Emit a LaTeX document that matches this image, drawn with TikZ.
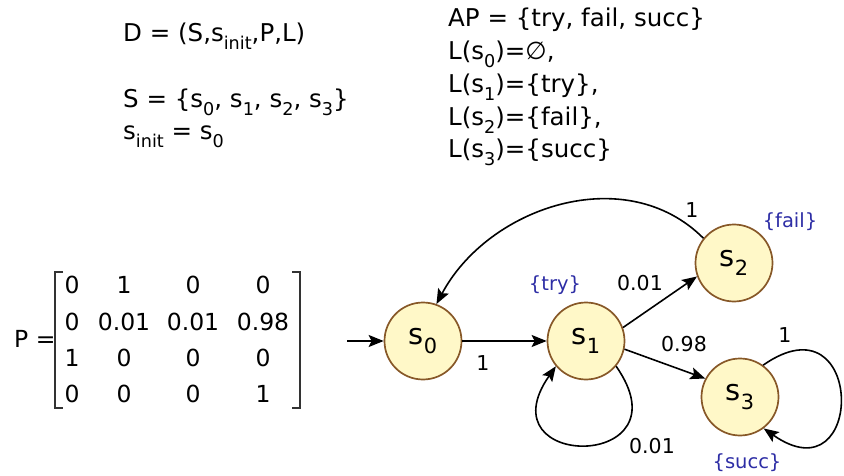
\documentclass[tikz,border=0pt]{standalone}
\usepackage{fontspec}
\setmainfont{DejaVu Sans}
\usetikzlibrary{arrows.meta}
\definecolor{statefill}{RGB}{255,248,200}
\definecolor{stateline}{RGB}{135,88,40}
\definecolor{lblue}{RGB}{45,45,165}
\newcommand\sbs[1]{\raisebox{-0.3em}{\scalebox{0.72}{#1}}}
\begin{document}
\begin{tikzpicture}[x=1pt,y=1pt,
  state/.style={circle,draw=stateline,fill=statefill,line width=1.7pt,minimum size=77pt,inner sep=0pt,font=\fontsize{29}{29}\selectfont},
  txt/.style={anchor=base west,inner sep=0pt,font=\fontsize{24.5}{28}\selectfont},
  mat/.style={anchor=base,inner sep=0pt,font=\fontsize{23.5}{28}\selectfont},
  elbl/.style={inner sep=0pt,font=\fontsize{20.5}{24}\selectfont},
  blbl/.style={inner sep=0pt,text=lblue,font=\fontsize{19.5}{24}\selectfont},
  edge/.style={line width=1.6pt,-{Stealth[length=15pt,width=12pt,inset=3pt]}},
  brk/.style={line width=1.6pt,draw=black!80}]
\useasboundingbox (0,0) rectangle (844,-476);

% top text
\node[txt] (d) at (123,-42) {D = (S,s\sbs{init},P,L)};
\node[txt] (sset) at (123,-108) {S = \{s\sbs{0}, s\sbs{1}, s\sbs{2}, s\sbs{3}\}};
\node[txt] (sinit) at (123,-140) {s\sbs{init} = s\sbs{0}};
\node[txt] (ap) at (448,-27) {AP = \{try, fail, succ\}};
\node[txt] (l0) at (448,-60) {L(s\sbs{0})=∅,};
\node[txt] (l1) at (448,-93) {L(s\sbs{1})=\{try\},};
\node[txt] (l2) at (448,-126) {L(s\sbs{2})=\{fail\},};
\node[txt] (l3) at (448,-158) {L(s\sbs{3})=\{succ\}};

% matrix
\node[mat,anchor=base west] (peq) at (14,-347) {P =};
\draw[brk] (63,-272) -- (55,-272) -- (55,-408) -- (63,-408);
\draw[brk] (292,-272) -- (300,-272) -- (300,-408) -- (292,-408);
\node[mat] (m11) at (72,-293) {0};
\node[mat] (m12) at (124,-293) {1};
\node[mat] (m13) at (193,-293) {0};
\node[mat] (m14) at (263,-293) {0};
\node[mat] (m21) at (72,-330) {0};
\node[mat] (m22) at (124,-330) {0.01};
\node[mat] (m23) at (193,-330) {0.01};
\node[mat] (m24) at (263,-330) {0.98};
\node[mat] (m31) at (72,-366) {1};
\node[mat] (m32) at (124,-366) {0};
\node[mat] (m33) at (193,-366) {0};
\node[mat] (m34) at (263,-366) {0};
\node[mat] (m41) at (72,-402) {0};
\node[mat] (m42) at (124,-402) {0};
\node[mat] (m43) at (193,-402) {0};
\node[mat] (m44) at (263,-402) {1};

% states
\node[state] (s0) at (423,-341) {s\sbs{0}};
\node[state] (s1) at (586,-341) {s\sbs{1}};
\node[state] (s2) at (734,-263) {s\sbs{2}};
\node[state] (s3) at (740,-397) {s\sbs{3}};
\coordinate (init) at (347,-341);

% edges
\draw[edge] (init) -- (s0);
\draw[edge] (s0) -- (s1);
\draw[edge] (s1.20) -- (s2.200);
\draw[edge] (s1.-12) -- (s3.152);
\draw[edge] (s2.141) .. controls +(135:110) and +(62:110) .. (s0.70);
\draw[edge] (s1.-40) .. controls +(-55:128) and +(-125:128) .. (s1.-140);
\draw[edge] (s3.54) .. controls +(35:125) and +(-35:125) .. (s3.-53);

% labels
\node[elbl] (e01) at (483,-363) {1};
\node[elbl] (e12) at (640,-283) {0.01};
\node[elbl] (e13) at (684,-344) {0.98};
\node[elbl] (e33) at (785,-335) {1};
\node[elbl] (e11) at (652,-446) {0.01};
\node[elbl] (e20) at (692,-210) {1};
\node[blbl] (ltry) at (555,-285) {\{try\}};
\node[blbl] (lfail) at (790,-222) {\{fail\}};
\node[blbl] (lsucc) at (747,-463) {\{succ\}};
\end{tikzpicture}
\end{document}
